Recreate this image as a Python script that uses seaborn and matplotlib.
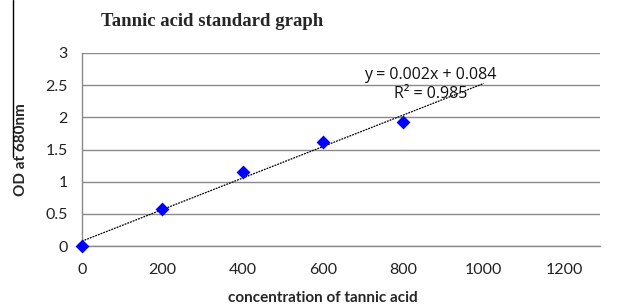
import numpy as np
import pandas as pd
import matplotlib
matplotlib.use("Agg")
import matplotlib.pyplot as plt
import seaborn as sns
from matplotlib.lines import Line2D

concentration = [0, 200, 400, 600, 800]
od_values = [0.0, 0.58, 1.15, 1.62, 1.93]
x_ticks = [0, 200, 400, 600, 800, 1000, 1200]
y_ticks = [0, 0.5, 1, 1.5, 2, 2.5, 3]
y_tick_labels = ["0", "0.5", "1", "1.5", "2", "2.5", "3"]
trend_end = 1000
equation_text = "y = 0.002x + 0.084"
r2_text = "R\u00b2 = 0.985"

sns.set_style("white")
plt.rcParams['font.family'] = ['Lato', 'DejaVu Sans']

df = pd.DataFrame({"conc": concentration, "od": od_values})

fig = plt.figure(figsize=(6.2, 3.08), dpi=100)
ax = fig.add_axes([0.132, 0.201, 0.836, 0.627])

# trendline
slope, intercept = np.polyfit(df["conc"], df["od"], 1)
xs = np.array([0, trend_end])
ax.plot(xs, slope * xs + intercept, color="black", lw=0.9, ls=(0, (1.5, 0.8)), zorder=2)

sns.scatterplot(data=df, x="conc", y="od", ax=ax, marker="D", s=50,
                color="#0000FF", edgecolor="#0000FF", linewidth=0, zorder=3, clip_on=False)

ax.set_xlim(0, 1290)
ax.set_ylim(0, 3)
ax.set_xticks(x_ticks)
ax.set_yticks(y_ticks)
ax.set_yticklabels(y_tick_labels)
ax.yaxis.grid(True, color="#8a8a8a", lw=1.0)
ax.set_axisbelow(True)
for s in ["top", "right"]:
    ax.spines[s].set_visible(False)
for s in ["left", "bottom"]:
    ax.spines[s].set_color("#8a8a8a")
    ax.spines[s].set_linewidth(1.0)
ax.tick_params(axis="both", direction="out", length=4, width=1.0, color="#8a8a8a",
               labelsize=11.5, labelcolor="#222222", pad=6)
ax.tick_params(axis="x", pad=8)

ax.set_xlabel("concentration of tannic acid", fontsize=11, fontweight="bold")
ax.set_ylabel("OD at 680nm", fontsize=11, fontweight="bold")
ax.xaxis.set_label_coords(0.465, -0.235)
ax.yaxis.set_label_coords(-0.104, 0.5)

fig.text(212 / 620, 1 - 22 / 308, "Tannic acid standard graph", ha="center", va="center",
         fontsize=13.5, fontweight="bold", family=["Liberation Serif", "DejaVu Serif"])

ax.text(867, 2.66, equation_text, ha="center", va="center", fontsize=11.5, color="#111111",
        family=["Open Sans", "DejaVu Sans"])
ax.text(867, 2.37, r2_text, ha="center", va="center", fontsize=11.5, color="#111111",
        family=["Open Sans", "DejaVu Sans"])

# left border artifact
fig.add_artist(Line2D([12.5 / 620, 12.5 / 620], [1, 1 - 157 / 308], transform=fig.transFigure,
                      color="black", lw=1.0))

fig.savefig("out.png", dpi=100)
